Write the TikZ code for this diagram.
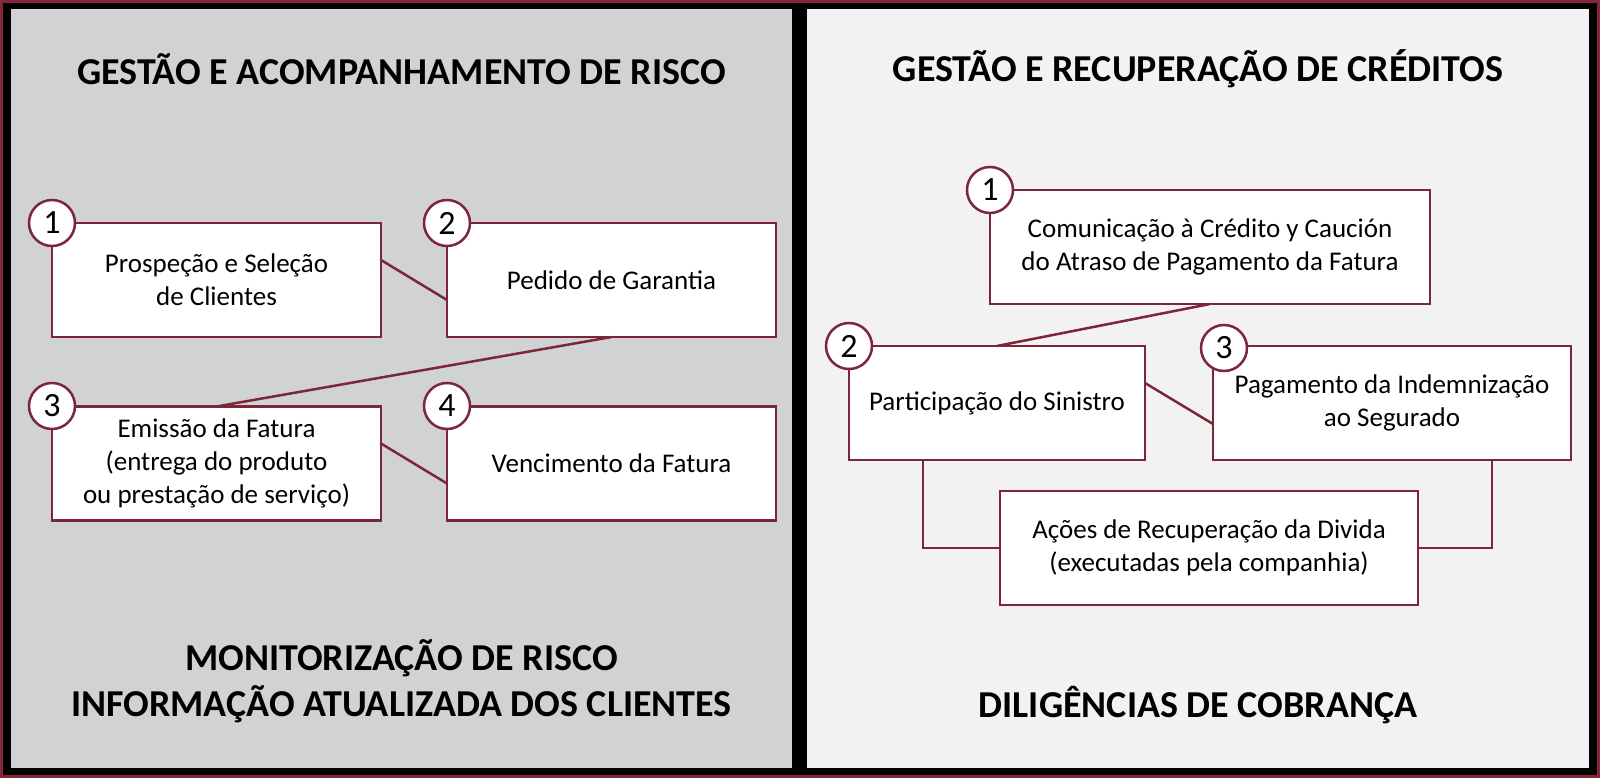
\documentclass[tikz,border=0pt]{standalone}
\usepackage{fontspec}
\setmainfont{Carlito}
\definecolor{maroon}{RGB}{125,38,58}
\definecolor{framered}{RGB}{135,38,58}
\definecolor{leftgray}{RGB}{209,210,212}
\definecolor{rightgray}{RGB}{242,242,242}
\begin{document}
\begin{tikzpicture}[x=1pt,y=-1pt,
  box/.style={draw=maroon, line width=2.5pt, fill=white, inner sep=0pt, outer sep=0pt,
    align=center, font=\fontsize{27}{33}\selectfont, minimum height=114pt},
  num/.style={circle, draw=maroon, line width=2.5pt, fill=white, minimum size=46pt,
    inner sep=0pt, outer sep=0pt, font=\fontsize{34}{38}\selectfont},
  link/.style={draw=maroon, line width=2.5pt},
  title/.style={font=\bfseries\fontsize{38}{38}\selectfont, align=center, inner sep=0pt},
  title2/.style={font=\bfseries\fontsize{38}{46}\selectfont, align=center, inner sep=0pt}]
\useasboundingbox (0,0) rectangle (1600,778);
\fill[framered] (0,0) rectangle (1600,778);
\fill[black] (3,3) rectangle (1597,775);
\fill[leftgray] (11,9) rectangle (792,768);
\fill[rightgray] (807,9) rectangle (1589,768);

% titles
\node[title] (tl) at (401.5,69) {GESTÃO E ACOMPANHAMENTO DE RISCO};
\node[title] (tr) at (1198,69) {GESTÃO E RECUPERAÇÃO DE CRÉDITOS};
\node[title2] (bl) at (401.5,681) {MONITORIZAÇÃO DE RISCO\\INFORMAÇÃO ATUALIZADA DOS CLIENTES};
\node[title] (br) at (1198,705) {DILIGÊNCIAS DE COBRANÇA};

% left boxes
\node[box, minimum width=329pt] (b1) at (216.5,280) {Prospeção e Seleção\\de Clientes};
\node[box, minimum width=329pt] (b2) at (611.5,280) {Pedido de Garantia};
\node[box, minimum width=329pt] (b3) at (216.5,463.5) {Emissão da Fatura\\(entrega do produto\\ou prestação de serviço)};
\node[box, minimum width=329pt] (b4) at (611.5,463.5) {Vencimento da Fatura};
\node[num] (c1) at (52,223) {1};
\node[num] (c2) at (447,223) {2};
\node[num] (c3) at (52,406) {3};
\node[num] (c4) at (447,406) {4};
\draw[link] ([yshift=20pt]b1.east) -- ([yshift=-20pt]b2.west);
\draw[link] (b2.south) -- (b3.north);
\draw[link] ([yshift=20pt]b3.east) -- ([yshift=-20pt]b4.west);

% right boxes
\node[box, minimum width=440pt] (r1) at (1210,247) {Comunicação à Crédito y Caución\\do Atraso de Pagamento da Fatura};
\node[box, minimum width=296pt] (r2) at (997,403) {Participação do Sinistro};
\node[box, minimum width=358pt] (r3) at (1392,403) {Pagamento da Indemnização\\ao Segurado};
\node[box, minimum width=418pt] (ra) at (1209,548) {Ações de Recuperação da Divida\\(executadas pela companhia)};
\node[num] (d1) at (990,190) {1};
\node[num] (d2) at (849,346) {2};
\node[num] (d3) at (1224,348) {3};
\draw[link] (r1.south) -- (r2.north);
\draw[link] ([yshift=20pt]r2.east) -- ([yshift=-21pt]r3.west);
\draw[link] ([xshift=-74pt]r2.south) |- (ra.west);
\draw[link] ([xshift=100pt]r3.south) |- (ra.east);
\end{tikzpicture}
\end{document}
